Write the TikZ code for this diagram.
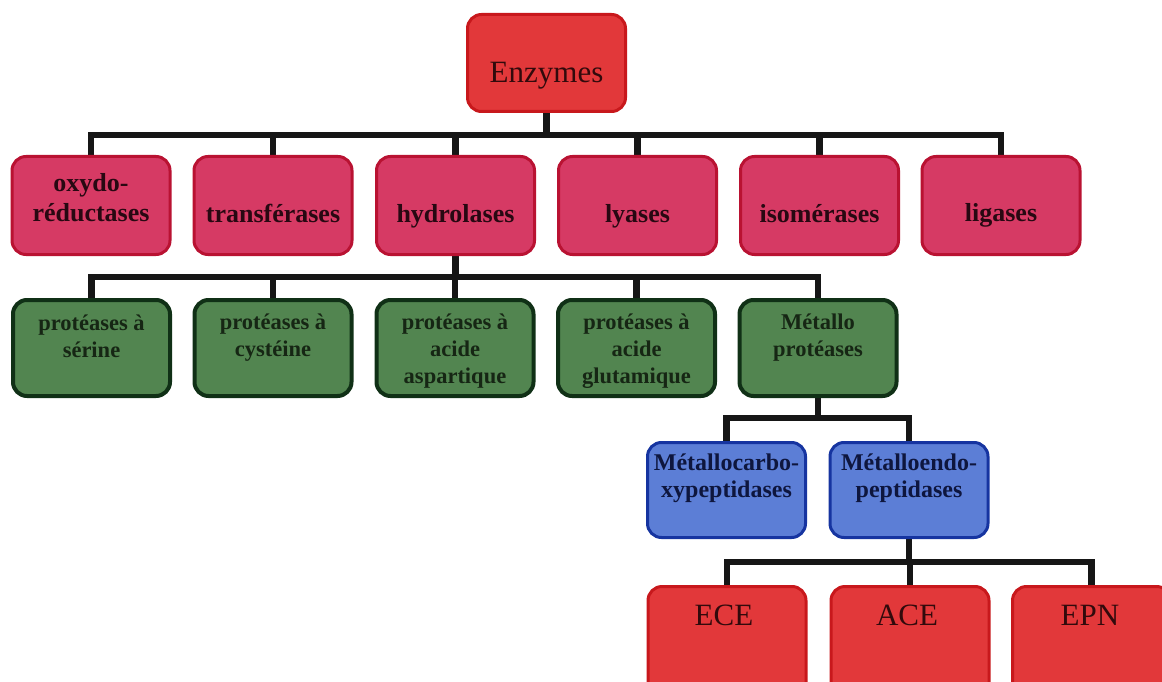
\documentclass[tikz,border=0pt]{standalone}
\usepackage{fontspec}
\setmainfont{Liberation Serif}
\usetikzlibrary{backgrounds}
\definecolor{pinkfill}{RGB}{214,58,100}
\definecolor{pinkline}{RGB}{185,18,50}
\definecolor{redfill}{RGB}{226,56,58}
\definecolor{redline}{RGB}{200,24,28}
\definecolor{greenfill}{RGB}{82,133,80}
\definecolor{greenline}{RGB}{16,48,22}
\definecolor{bluefill}{RGB}{92,126,214}
\definecolor{blueline}{RGB}{22,52,160}
\definecolor{connc}{RGB}{22,22,22}
\definecolor{pinktxt}{RGB}{40,8,18}
\definecolor{redtxt}{RGB}{50,10,12}
\definecolor{greentxt}{RGB}{22,38,20}
\definecolor{bluetxt}{RGB}{14,22,62}
\begin{document}
\begin{tikzpicture}[x=1pt,y=-1pt,
  basebox/.style={draw, rounded corners=14pt, inner sep=0pt},
  redbox/.style={basebox, fill=redfill, draw=redline, line width=3pt, minimum width=158pt, minimum height=97pt},
  pinkbox/.style={basebox, fill=pinkfill, draw=pinkline, line width=3pt, minimum width=158pt, minimum height=98pt},
  greenbox/.style={basebox, fill=greenfill, draw=greenline, line width=4pt, minimum width=157pt, minimum height=96pt},
  bluebox/.style={basebox, fill=bluefill, draw=blueline, line width=3pt, minimum width=158pt, minimum height=95pt},
  bigtxt/.style={text=redtxt, font=\fontsize{31}{34}\selectfont, inner sep=0pt},
  pinktxt/.style={text=pinktxt, font=\fontsize{26}{30}\selectfont\bfseries, align=center, inner sep=0pt},
  greentxt/.style={text=greentxt, font=\fontsize{22.5}{27}\selectfont\bfseries, align=center, inner sep=0pt},
  bluetxt/.style={text=bluetxt, font=\fontsize{24}{27}\selectfont\bfseries, align=center, inner sep=0pt},
  conn/.style={draw=connc, line width=6.5pt}
]
\useasboundingbox (0,0) rectangle (1162,682);
\clip (0,0) rectangle (1162,682);

% level 0
\node[redbox] (enz) at (546.5,63) {};
\node[bigtxt, anchor=base] (enzt) at (546.5,83) {Enzymes};

% level 1
\node[pinkbox] (oxy) at (91,205.5) {};
\node[pinkbox] (tra) at (273,205.5) {};
\node[pinkbox] (hyd) at (455.5,205.5) {};
\node[pinkbox] (lya) at (637.5,205.5) {};
\node[pinkbox] (iso) at (819.5,205.5) {};
\node[pinkbox] (lig) at (1001,205.5) {};
\node[pinktxt] (oxyt) at (91,198) {oxydo-\\réductases};
\node[pinktxt, anchor=base] (trat) at (273,222) {transférases};
\node[pinktxt, anchor=base] (hydt) at (455.5,222) {hydrolases};
\node[pinktxt, anchor=base] (lyat) at (637.5,222) {lyases};
\node[pinktxt, anchor=base] (isot) at (819.5,222) {isomérases};
\node[pinktxt, anchor=base] (ligt) at (1001,221) {ligases};

% level 2
\node[greenbox] (ser) at (91.5,348) {};
\node[greenbox] (cys) at (273,348) {};
\node[greenbox] (asp) at (455,348) {};
\node[greenbox] (glu) at (636.5,348) {};
\node[greenbox] (met) at (818,348) {};
\node[greentxt] (sert) at (91.5,336) {protéases à\\sérine};
\node[greentxt] (cyst) at (273,338) {protéases à\\cystéine};
\node[greentxt] (aspt) at (455,351.5) {protéases à\\acide\\aspartique};
\node[greentxt] (glut) at (636.5,351.5) {protéases à\\acide\\glutamique};
\node[greentxt] (mett) at (818,338) {Métallo\\protéases};

% level 3
\node[bluebox] (car) at (726.5,490) {};
\node[bluebox] (end) at (909,490) {};
\node[bluetxt] (cart) at (726.5,478) {Métallocarbo-\\xypeptidases};
\node[bluetxt] (endt) at (909,478) {Métalloendo-\\peptidases};

% level 4 (boxes run past the lower edge)
\node[redbox, minimum height=115pt] (ece) at (727,644) {};
\node[redbox, minimum height=115pt] (ace) at (910,644) {};
\node[redbox, minimum height=115pt] (epn) at (1091.5,644) {};
\node[bigtxt, anchor=base] (ecet) at (724,625) {ECE};
\node[bigtxt, anchor=base] (acet) at (907,625) {ACE};
\node[bigtxt, anchor=base] (epnt) at (1090,625) {EPN};

% connectors
\begin{scope}[on background layer]
\coordinate (b1) at (546.5,135);
\draw[conn] (enz.south) -- (b1);
\foreach \n in {oxy,tra,hyd,lya,iso,lig} \draw[conn] (b1) -| (\n.north);
\coordinate (b2) at (455.5,277);
\draw[conn] (hyd.south) -- (b2);
\foreach \n in {ser,cys,asp,glu,met} \draw[conn] (b2) -| (\n.north);
\coordinate (b3) at (818,418);
\draw[conn] (met.south) -- (b3);
\foreach \n in {car,end} \draw[conn] (b3) -| (\n.north);
\coordinate (b4) at (909,562);
\draw[conn] (end.south) -- (b4);
\foreach \n in {ece,ace,epn} \draw[conn] (b4) -| (\n.north);
\end{scope}
\end{tikzpicture}
\end{document}
